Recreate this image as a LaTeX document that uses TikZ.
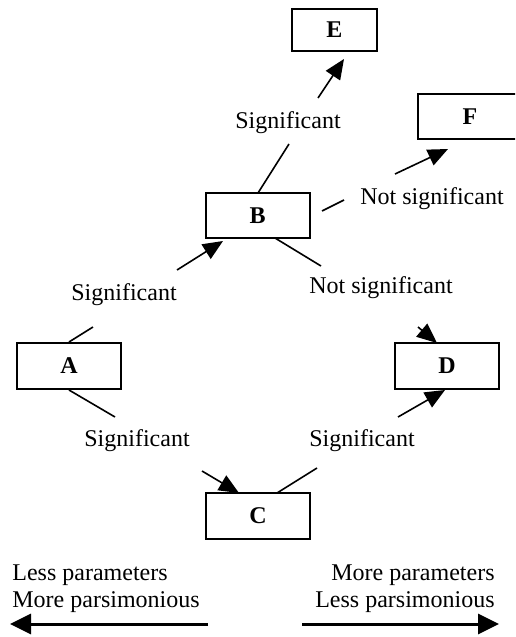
\documentclass[tikz,border=0pt]{standalone}
\usepackage{fontspec}
\setmainfont{Liberation Serif}
\usetikzlibrary{arrows.meta}
\begin{document}
\begin{tikzpicture}[x=0.5pt,y=-0.5pt,
  box/.style={draw,line width=1pt,minimum width=52pt,minimum height=23pt,inner sep=0pt,font=\fontsize{12}{14}\selectfont\bfseries},
  lbl/.style={inner sep=0pt,font=\fontsize{12}{14}\selectfont},
  con/.style={line width=0.8pt},
  arr/.style={con,-{Triangle[length=10pt,width=8.5pt]}},
  big/.style={line width=1.5pt,-{Triangle[length=10.5pt,width=10pt]}}]
\clip (0,0) rectangle (515,637);
\useasboundingbox (0,0) rectangle (515,637);
% boxes
\node[box,minimum width=42.5pt,minimum height=21pt] (E) at (334.5,30) {E};
\node[box,minimum height=22.5pt] (F) at (470,116.5) {F};
\node[box,minimum height=22.5pt] (B) at (257.5,215.5) {B};
\node[box] (A) at (69,366) {A};
\node[box] (D) at (447,366) {D};
\node[box] (C) at (258,516) {C};
% connector gap ends and tips
\coordinate (ab1) at (93,327);  \coordinate (ab2) at (177,270); \coordinate (abt) at (223,241);
\coordinate (be0) at (258,193); \coordinate (be1) at (289,144); \coordinate (be2) at (318,98); \coordinate (bet) at (344,59);
\coordinate (bf0) at (322,211); \coordinate (bf1) at (344,200); \coordinate (bf2) at (395,174); \coordinate (bft) at (448,149);
\coordinate (bd0) at (275,238); \coordinate (bd1) at (321,266); \coordinate (bd2) at (418,327); \coordinate (bdt) at (437,343);
\coordinate (ac1) at (115,417); \coordinate (ac2) at (202,471); \coordinate (act) at (239,493);
\coordinate (cd0) at (277,493); \coordinate (cd1) at (317,468); \coordinate (cd2) at (398,417); \coordinate (cdt) at (445,390);
% connectors
\draw[con] (A.north) -- (ab1); \draw[arr] (ab2) -- (abt);
\draw[con] (be0) -- (be1); \draw[arr] (be2) -- (bet);
\draw[con] (bf0) -- (bf1); \draw[arr] (bf2) -- (bft);
\draw[con] (bd0) -- (bd1); \draw[arr] (bd2) -- (bdt);
\draw[con] (A.south) -- (ac1); \draw[arr] (ac2) -- (act);
\draw[con] (cd0) -- (cd1); \draw[arr] (cd2) -- (cdt);
% labels
\node[lbl] (lab) at (124,295) {Significant};
\node[lbl] (lbe) at (288,123) {Significant};
\node[lbl] (lbf) at (432,199) {Not significant};
\node[lbl] (lbd) at (381,288) {Not significant};
\node[lbl] (lac) at (137,441) {Significant};
\node[lbl] (lcd) at (362,441) {Significant};
% bottom
\node[lbl,anchor=base west] (t1) at (12,580) {Less parameters};
\node[lbl,anchor=base west] (t2) at (12,607) {More parsimonious};
\node[lbl,anchor=base east] (t3) at (495,580) {More parameters};
\node[lbl,anchor=base east] (t4) at (495,607) {Less parsimonious};
\coordinate (l0) at (208,624); \coordinate (l1) at (10,624);
\coordinate (r0) at (302,624); \coordinate (r1) at (499,624);
\draw[big] (l0) -- (l1);
\draw[big] (r0) -- (r1);
\end{tikzpicture}
\end{document}
